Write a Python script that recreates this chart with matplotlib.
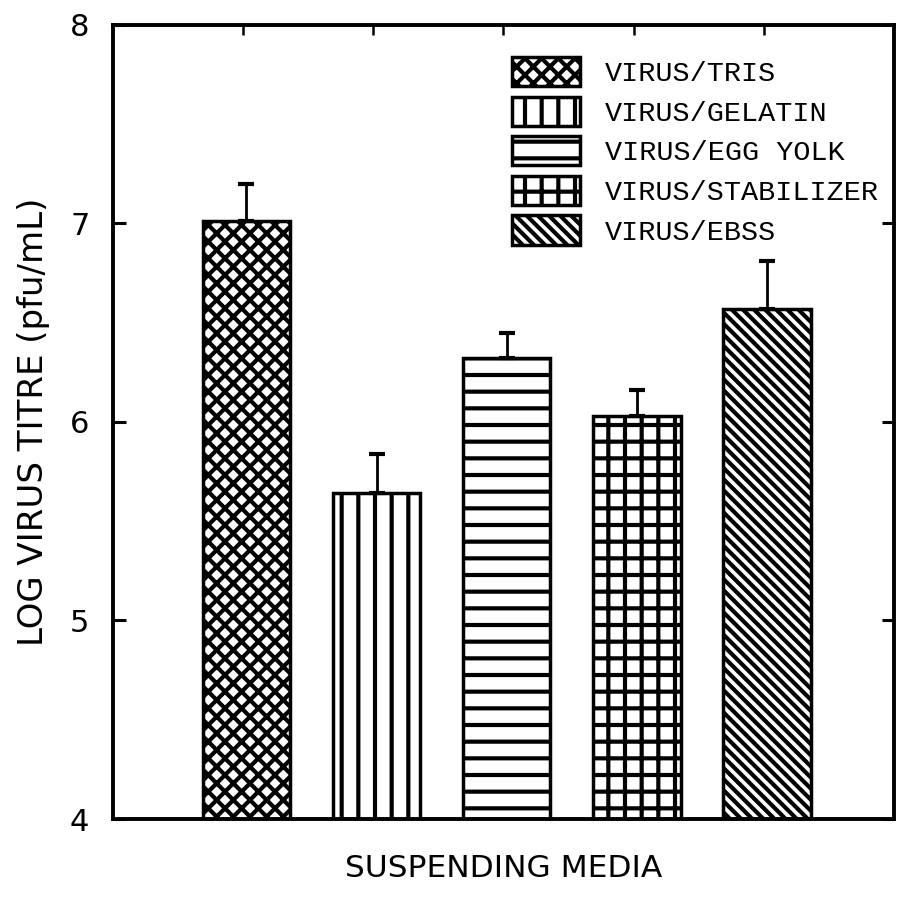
import matplotlib
matplotlib.use("Agg")
import matplotlib.pyplot as plt
from matplotlib.patches import Patch

# data
MEDIA = ["VIRUS/TRIS", "VIRUS/GELATIN", "VIRUS/EGG YOLK",
         "VIRUS/STABILIZER", "VIRUS/EBSS"]
TITRE = [7.01, 5.64, 6.32, 6.03, 6.57]
TITRE_ERR = [0.19, 0.20, 0.13, 0.13, 0.24]
POSITIONS = [1, 2, 3, 4, 5]
HATCHES = ["xx", "|", "-", "+", "\\\\\\"]

plt.rcParams["hatch.linewidth"] = 3.0
plt.rcParams["font.family"] = ["DejaVu Sans"]

fig = plt.figure(figsize=(8.99, 9.01), dpi=100)
ax = fig.add_axes([0.1257, 0.091, 0.8687, 0.8813])

for x, v, h in zip(POSITIONS, TITRE, HATCHES):
    ax.bar(x + 0.025, v - 4, bottom=4, width=0.67, color="white",
           edgecolor="black", linewidth=2.5, hatch=h, zorder=2)

ax.errorbar([p + 0.025 for p in POSITIONS], TITRE,
            yerr=[[0] * len(TITRE), TITRE_ERR], fmt="none",
            ecolor="black", elinewidth=2, capsize=5.5, capthick=3, zorder=3)

ax.set_xlim(0, 6)
ax.set_ylim(4, 8)
ax.set_yticks([4, 5, 6, 7, 8])
ax.set_xticks(POSITIONS)
ax.set_xticklabels([])

for s in ax.spines.values():
    s.set_linewidth(2.8)

ax.tick_params(axis="y", direction="in", length=9, width=2.2, right=True,
               labelsize=22, pad=17)
ax.tick_params(axis="x", direction="in", length=7, width=1.8, top=True)

ax.set_ylabel("LOG VIRUS TITRE (pfu/mL)", fontsize=24.5, labelpad=14)
ax.set_xlabel("SUSPENDING MEDIA", fontsize=22.5, labelpad=22)

handles = [Patch(facecolor="white", edgecolor="black", linewidth=2.5, hatch=h)
           for h in HATCHES]
ax.legend(handles, MEDIA, loc="upper left",
          bbox_to_anchor=(512 / 899, 1 - 57 / 901), bbox_transform=fig.transFigure,
          frameon=False, borderpad=0, borderaxespad=0,
          handlelength=2.4, handleheight=1.2, handletextpad=0.85,
          labelspacing=0.33,
          prop={"family": "Liberation Mono", "size": 20.5})

fig.savefig("out.png", dpi=100)
